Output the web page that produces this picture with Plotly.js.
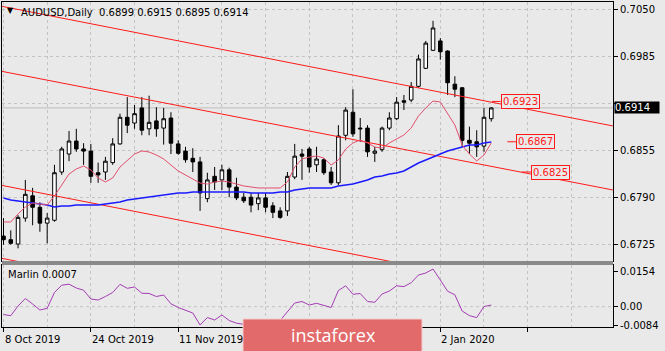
<!DOCTYPE html>
<html><head><meta charset="utf-8">
<script src="https://cdn.plot.ly/plotly-3.0.1.min.js"></script>
<style>html,body{margin:0;padding:0;background:#e9e9e9;}#chart{width:665px;height:351px;}</style>
</head><body><div id="chart"></div>
<script>
const symbol = 'AUDUSD';
const timeframe = 'Daily';
const dates = ['2019-10-08','2019-10-09','2019-10-10','2019-10-11','2019-10-14','2019-10-15','2019-10-16','2019-10-17','2019-10-18','2019-10-21',
 '2019-10-22','2019-10-23','2019-10-24','2019-10-25','2019-10-28','2019-10-29','2019-10-30','2019-10-31','2019-11-01','2019-11-04',
 '2019-11-05','2019-11-06','2019-11-07','2019-11-08','2019-11-11','2019-11-12','2019-11-13','2019-11-14','2019-11-15','2019-11-18',
 '2019-11-19','2019-11-20','2019-11-21','2019-11-22','2019-11-25','2019-11-26','2019-11-27','2019-11-28','2019-11-29','2019-12-02',
 '2019-12-03','2019-12-04','2019-12-05','2019-12-06','2019-12-09','2019-12-10','2019-12-11','2019-12-12','2019-12-13','2019-12-16',
 '2019-12-17','2019-12-18','2019-12-19','2019-12-20','2019-12-23','2019-12-24','2019-12-26','2019-12-27','2019-12-30','2019-12-31',
 '2020-01-02','2020-01-03','2020-01-06','2020-01-07','2020-01-08','2020-01-09','2020-01-10','2020-01-13'];
const open = [.6736,.6731,.6725,.6761,.6792,.6776,.6754,.6758,.6825,.6850,
 .6868,.6857,.6854,.6824,.6825,.6838,.6864,.6901,.6893,.6914,
 .6885,.6896,.6886,.6900,.6864,.6854,.6844,.6839,.6788,.6819,
 .6814,.6828,.6804,.6790,.6790,.6781,.6789,.6778,.6771,.6771,
 .6818,.6850,.6857,.6835,.6842,.6825,.6810,.6876,.6908,.6886,
 .6886,.6851,.6856,.6886,.6899,.6924,.6925,.6944,.6969,.6994,
 .7007,.6993,.6947,.6942,.6869,.6867,.6861,.6899];
const high = [.6761,.6744,.6765,.6814,.6803,.6783,.6768,.6835,.6860,.6882,
 .6885,.6865,.6864,.6838,.6846,.6872,.6906,.6929,.6918,.6929,
 .6931,.6915,.6914,.6908,.6869,.6860,.6858,.6846,.6824,.6832,
 .6835,.6831,.6817,.6796,.6796,.6796,.6796,.6783,.6776,.6825,
 .6864,.6857,.6860,.6860,.6844,.6832,.6890,.6915,.6940,.6900,
 .6890,.6860,.6888,.6908,.6929,.6932,.6950,.6988,.7007,.7035,
 .7011,.6994,.6958,.6943,.6888,.6883,.6914,.6915];
const low = [.6724,.6724,.6719,.6756,.6751,.6742,.6726,.6756,.6821,.6840,
 .6853,.6835,.6810,.6810,.6814,.6835,.6863,.6879,.6885,.6876,
 .6876,.6874,.6863,.6850,.6849,.6838,.6825,.6771,.6783,.6800,
 .6800,.6790,.6786,.6782,.6769,.6772,.6769,.6761,.6760,.6764,
 .6815,.6814,.6824,.6825,.6821,.6807,.6807,.6869,.6874,.6867,
 .6846,.6839,.6853,.6883,.6897,.6911,.6922,.6942,.6968,.6993,
 .6981,.6932,.6929,.6860,.6850,.6846,.6853,.6895];
const close = [.6731,.6726,.6762,.6794,.6776,.6754,.6761,.6824,.6857,.6868,
 .6857,.6854,.6819,.6821,.6840,.6864,.6901,.6890,.6906,.6883,
 .6894,.6885,.6899,.6865,.6851,.6842,.6839,.6796,.6814,.6811,
 .6828,.6804,.6789,.6785,.6779,.6789,.6776,.6769,.6762,.6819,
 .6847,.6847,.6832,.6843,.6824,.6810,.6875,.6911,.6878,.6885,
 .6853,.6854,.6886,.6900,.6922,.6922,.6944,.6982,.7004,.7025,
 .6992,.6949,.6940,.6869,.6865,.6860,.6901,.6914];
const maFast = [.67556,.67556,.67667,.67764,.67819,.67806,.67792,.67917,.68069,.68222,
 .68292,.68333,.68278,.68167,.68111,.68167,.68319,.68403,.68500,.68542,
 .68528,.68486,.68431,.68347,.68264,.68208,.68153,.68097,.68083,.68111,
 .68125,.68111,.68083,.68056,.68042,.68028,.68028,.68028,.68028,.68111,
 .68319,.68431,.68458,.68472,.68444,.68347,.68417,.68569,.68653,.68694,
 .68653,.68597,.68583,.68653,.68708,.68764,.68861,.69028,.69139,.69236,
 .69222,.69056,.68903,.68625,.68500,.68403,.68486,.68653];
const maSlow = [.67889,.67861,.67847,.67833,.67819,.67806,.67792,.67764,.67778,.67778,
 .67792,.67792,.67792,.67792,.67806,.67819,.67833,.67861,.67875,.67889,
 .67903,.67917,.67931,.67944,.67958,.67958,.67972,.67972,.67972,.67972,
 .67972,.67972,.67972,.67972,.67958,.67958,.67958,.67958,.67972,.67972,
 .68000,.68014,.68028,.68028,.68028,.68028,.68056,.68069,.68083,.68111,
 .68139,.68181,.68194,.68222,.68236,.68264,.68319,.68375,.68417,.68458,
 .68500,.68542,.68569,.68597,.68625,.68625,.68653,.68667];
const marlin = [-0.00343,-0.00396,0.00031,0.00361,0.00119,-0.00145,-0.00070,0.00625,0.00946,0.00990,
 0.00823,0.00726,0.00339,0.00295,0.00449,0.00625,0.00985,0.00810,0.00867,0.00594,
 0.00581,0.00449,0.00515,0.00128,-0.00035,-0.00145,-0.00277,-0.00805,-0.00475,-0.00585,
 -0.00365,-0.00607,-0.00726,-0.00774,-0.00805,-0.00827,-0.00805,-0.00739,-0.00607,-0.00211,
 0.00163,0.00229,0.00075,0.00150,0.00053,-0.00035,0.00713,0.00920,0.00546,0.00581,
 0.00229,0.00194,0.00559,0.00691,0.00920,0.00884,0.01056,0.01395,0.01483,0.01659,
 0.01175,0.00682,0.00524,-0.00189,-0.00392,-0.00480,0.00009,0.00070];
// channel lines: [bar index, price] at both ends
const trendA = {x: [-0.48, 83.72], y: [0.70556, 0.68889]};
const trendB = {x: [-0.48, 83.72], y: [0.69653, 0.68000]};
const trendC = {x: [-0.48, 83.72], y: [0.68069, 0.66403]};
const trendD = {x: [-0.48, 83.72], y: [0.67056, 0.65389]};
const labelValues = [0.6923, 0.6867, 0.6825];
const priceTicks = [0.6725, 0.6790, 0.6855, 0.6920, 0.6985, 0.7050];
const priceTickText = ['0.6725', '0.6790', '0.6855', '', '0.6985', '0.7050'];
const marlinTicks = [-0.0084, 0, 0.0154];
const marlinTickText = ['-0.0084', '0.00', '0.0154'];
const dateLabelIdx = [0, 12, 24, 60];
const months = ['Jan','Feb','Mar','Apr','May','Jun','Jul','Aug','Sep','Oct','Nov','Dec'];

const idx = dates.map((d, i) => i);
const last = dates.length - 1;
function fmtDate(d){ const p = d.split('-'); return (+p[2]) + ' ' + months[+p[1]-1] + ' ' + p[0]; }
const F = 'DejaVu Sans';
const GRID = '#c3c3c3';
const px2x = px => (px - 2) / 611;
const py2y = py => (327 - py) / 325;

const traces = [
  {type:'scatter', mode:'lines', x:trendA.x, y:trendA.y, line:{color:'#ff1a1a', width:1}, hoverinfo:'skip', showlegend:false},
  {type:'scatter', mode:'lines', x:trendB.x, y:trendB.y, line:{color:'#ff1a1a', width:1}, hoverinfo:'skip', showlegend:false},
  {type:'scatter', mode:'lines', x:trendC.x, y:trendC.y, line:{color:'#ff1a1a', width:1}, hoverinfo:'skip', showlegend:false},
  {type:'scatter', mode:'lines', x:trendD.x, y:trendD.y, line:{color:'#ff1a1a', width:1}, hoverinfo:'skip', showlegend:false},
  {type:'scatter', mode:'lines', x:idx, y:maSlow, line:{color:'#1a1aff', width:1.5}, hoverinfo:'skip', showlegend:false},
  {type:'scatter', mode:'lines', x:idx, y:maFast, line:{color:'#e4506e', width:1}, hoverinfo:'skip', showlegend:false},
  {type:'candlestick', x:idx, open:open, high:high, low:low, close:close, xaxis:'x', yaxis:'y',
   increasing:{line:{color:'#000', width:1}, fillcolor:'#ffffff'},
   decreasing:{line:{color:'#000', width:1}, fillcolor:'#000000'},
   whiskerwidth:0, hoverinfo:'skip', showlegend:false},
  {type:'scatter', mode:'lines', x:idx, y:marlin, xaxis:'x2', yaxis:'y2', line:{color:'#a43cb4', width:1}, hoverinfo:'skip', showlegend:false}
];

const labelPos = [[67.1, 68.3], [69.2, 70.4], [71.2, 72.5]];
const shapes = [
  {type:'line', xref:'paper', x0:0, x1:1, yref:'y', y0:close[last], y1:close[last], line:{color:'#bdbdbd', width:1}, layer:'below'},
  {type:'line', xref:'paper', x0:0, x1:1, yref:'y2', y0:0, y1:0, line:{color:GRID, width:1, dash:'3px,3px'}, layer:'below'},
  {type:'rect', xref:'paper', yref:'paper', x0:0, x1:1, y0:py2y(265), y1:py2y(261), fillcolor:'#8a8a8a', line:{width:0}},
  {type:'rect', xref:'paper', yref:'paper', x0:px2x(243), x1:px2x(422), y0:py2y(352), y1:py2y(319), fillcolor:'#e26a6a', line:{color:'#f3cccc', width:1}, layer:'above'}
];
labelValues.forEach((v, k) => shapes.push({type:'line', xref:'x', yref:'y', x0:labelPos[k][0], x1:labelPos[k][1], y0:v, y1:v, line:{color:'#ff1a1a', width:1}}));

const annotations = [
  {xref:'paper', yref:'paper', x:px2x(10), y:py2y(11), text:'\u25BC', showarrow:false, xanchor:'center', yanchor:'middle', font:{family:F, size:8, color:'#000'}},
  {xref:'paper', yref:'paper', x:px2x(19), y:py2y(12), xanchor:'left', yanchor:'middle', showarrow:false,
   text: symbol + ',' + timeframe + '\u00a0\u00a0' + [open[last], high[last], low[last], close[last]].map(v => v.toFixed(4)).join(' '),
   font:{family:F, size:10, color:'#000'}},
  {xref:'paper', yref:'paper', x:px2x(6), y:py2y(274), xanchor:'left', yanchor:'middle', showarrow:false,
   text:'Marlin ' + marlin[last].toFixed(4), font:{family:F, size:10, color:'#000'}},
  {xref:'paper', yref:'y', x:px2x(614), y:close[last], xanchor:'left', yanchor:'middle', showarrow:false,
   text:close[last].toFixed(4), bgcolor:'#000', font:{family:F, size:10, color:'#fff'}, width:44, height:11, align:'left', borderpad:0},
  {xref:'paper', yref:'paper', x:px2x(289), y:py2y(335), xanchor:'left', yanchor:'middle', showarrow:false,
   text:'instaforex', font:{family:'Open Sans', size:18, color:'#ffffff'}}
];
labelValues.forEach((v, k) => annotations.push({xref:'x', yref:'y', x:labelPos[k][1], y:v, xanchor:'left', yanchor:'middle', showarrow:false,
  text:v.toFixed(4), font:{family:F, size:10, color:'#ff1a1a'}, bordercolor:'#ff1a1a', borderwidth:1, borderpad:1, bgcolor:'#e9e9e9'}));
dateLabelIdx.forEach(i => annotations.push({xref:'x2', yref:'paper', x:i, y:py2y(339), xanchor:'left', yanchor:'middle', xshift:-1, showarrow:false,
  text:fmtDate(dates[i]), font:{family:F, size:10, color:'#000'}}));

const xcommon = {range:[-0.206, 83.72], showticklabels:false, tickmode:'linear', tick0:0, dtick:12,
  showgrid:true, gridcolor:GRID, griddash:'3px,3px', gridwidth:1, zeroline:false,
  showline:true, mirror:true, linecolor:'#000', linewidth:1,
  minor:{tick0:0, dtick:6, showgrid:true, gridcolor:GRID, griddash:'3px,3px', gridwidth:1, ticks:''}};

const layout = {
  width:665, height:351, margin:{l:2, r:52, t:2, b:24},
  paper_bgcolor:'#e9e9e9', plot_bgcolor:'#e9e9e9', showlegend:false,
  font:{family:F, size:10, color:'#000'},
  xaxis: Object.assign({}, xcommon, {anchor:'y', ticks:'', rangeslider:{visible:false}}),
  xaxis2: Object.assign({}, xcommon, {anchor:'y2', matches:'x', ticks:'outside', ticklen:4, tickcolor:'#000'}),
  yaxis: {domain:[py2y(261), 1], range:[0.67014, 0.70611], side:'right', tickmode:'array', tickvals:priceTicks, ticktext:priceTickText,
    ticks:'outside', ticklen:4, tickcolor:'#000', tickfont:{family:F, size:10, color:'#000'},
    showgrid:true, gridcolor:GRID, griddash:'3px,3px', zeroline:false, showline:true, mirror:true, linecolor:'#000'},
  yaxis2: {domain:[0, py2y(265)], range:[-0.00893, 0.01835], side:'right', anchor:'x2', tickmode:'array', tickvals:marlinTicks, ticktext:marlinTickText,
    ticks:'outside', ticklen:4, tickcolor:'#000', tickfont:{family:F, size:10, color:'#000'},
    showgrid:false, zeroline:false, showline:true, mirror:true, linecolor:'#000'},
  shapes: shapes, annotations: annotations
};
Plotly.newPlot('chart', traces, layout, {staticPlot:true, displayModeBar:false});
</script></body></html>
